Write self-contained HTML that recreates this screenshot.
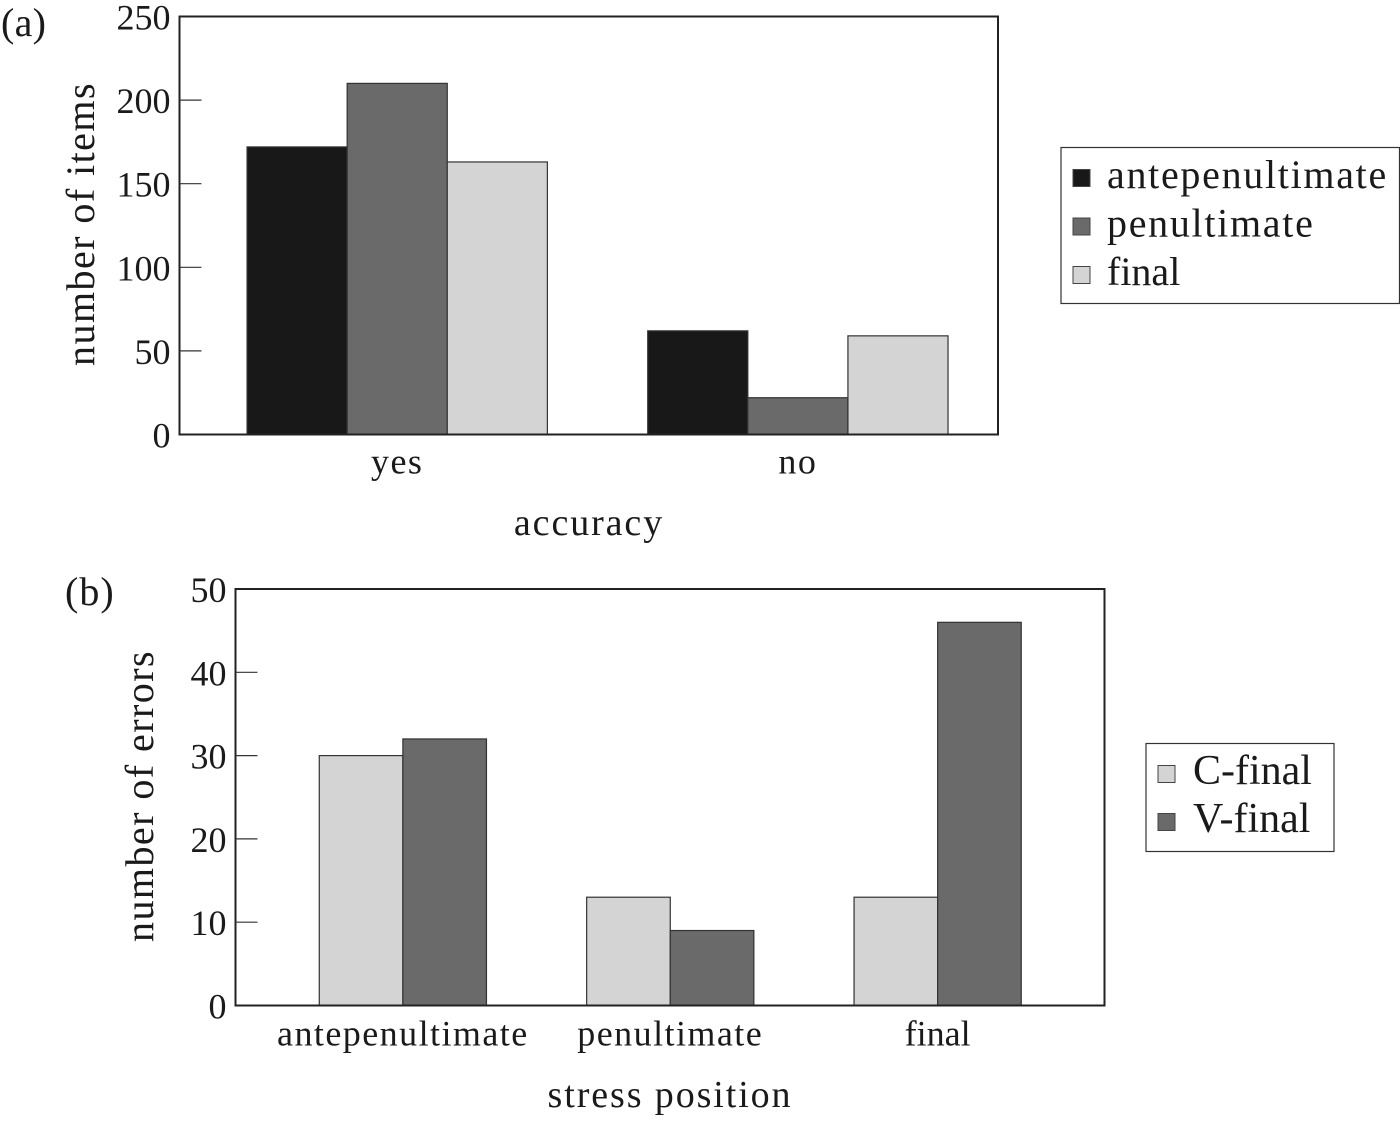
<!DOCTYPE html>
<html lang="en">
<head>
<meta charset="utf-8">
<title>Stress position charts</title>
<style>
html,body{margin:0;padding:0;background:#fff;width:1400px;height:1123px;overflow:hidden}
svg{display:block}
text{font-family:"Liberation Serif",serif;fill:#1a1a1a}
</style>
</head>
<body>
<svg id="figure" xmlns="http://www.w3.org/2000/svg" width="1400" height="1123" viewBox="0 0 1400 1123"></svg>
<script>
const categoriesA = ['yes', 'no'];
const seriesNamesA = ['antepenultimate', 'penultimate', 'final'];
const antepenultimateValues = [172, 62];
const penultimateValues = [210, 22];
const finalValues = [163, 59];
const ticksA = [0, 50, 100, 150, 200, 250];

const categoriesB = ['antepenultimate', 'penultimate', 'final'];
const seriesNamesB = ['C-final', 'V-final'];
const cFinalValues = [30, 13, 13];
const vFinalValues = [32, 9, 46];
const ticksB = [0, 10, 20, 30, 40, 50];

const svg = document.getElementById('figure');
const NS = 'http://www.w3.org/2000/svg';

function add(tag, attrs, content) {
  const el = document.createElementNS(NS, tag);
  for (const k in attrs) el.setAttribute(k, attrs[k]);
  if (content !== undefined) el.textContent = content;
  svg.appendChild(el);
  return el;
}
function label(name, str, x, y, size, ls, anchor, rot) {
  const attrs = {x: x, y: y, 'font-size': size, 'letter-spacing': ls, 'text-anchor': anchor};
  if (rot) attrs.transform = 'rotate(-90 ' + x + ' ' + y + ')';
  const el = add('text', attrs, str);
  
  
  return el;
}
function slug(s) { return String(s).toLowerCase().replace(/[^a-z0-9]+/g, '-'); }
// Zero tracking on "final" keeps the fi ligature seen in the reference.
function tracking(s, ls) { return /final/.test(s) ? 0 : ls; }

function drawChart(cfg) {
  const yOf = v => cfg.bottom - (v / cfg.yMax) * (cfg.bottom - cfg.top);
  const plotW = cfg.right - cfg.left;
  const xCenter = i => cfg.left + plotW * (cfg.firstCenter + i * cfg.step);
  const barW = plotW * cfg.barFrac;
  const n = cfg.series.length;

  cfg.series.forEach((vals, s) => {
    vals.forEach((v, i) => {
      const x = xCenter(i) - n * barW / 2 + s * barW;
      const bar = add('rect', {x: x, y: yOf(v), width: barW, height: cfg.bottom - yOf(v),
        fill: cfg.colors[s], stroke: '#333', 'stroke-width': 1.2});
      
      
    });
  });

  const frame = add('rect', {x: cfg.left, y: cfg.top, width: plotW, height: cfg.bottom - cfg.top,
    fill: 'none', stroke: '#222', 'stroke-width': 2});
  
  

  cfg.ticks.forEach(t => {
    if (t !== 0 && t !== cfg.yMax) {
      const tick = add('line', {x1: cfg.left, x2: cfg.left + 22, y1: yOf(t), y2: yOf(t), stroke: '#333', 'stroke-width': 1.2});
      
      
    }
    label('y-tick-label-' + cfg.id + '-' + t, t, cfg.left - 9, yOf(t) + 13, 36, 0, 'end');
  });

  cfg.categories.forEach((c, i) => {
    label('x-tick-label-' + cfg.id + '-' + slug(c), c, xCenter(i), cfg.bottom + cfg.catOffset, 36, tracking(c, 1.45), 'middle');
  });

  label('x-axis-title-' + cfg.id, cfg.xTitle, cfg.xTitleX, cfg.xTitleY, 38, 1.9, 'middle');
  label('y-axis-title-' + cfg.id, cfg.yTitle, cfg.yTitleX, cfg.yTitleY, 40, 1.45, 'middle', true);
  label('panel-label-' + cfg.id, cfg.panel, cfg.panelX, cfg.panelY, 40, cfg.panelLs, 'start');

  const box = add('rect', {x: cfg.legend.x, y: cfg.legend.y, width: cfg.legend.w, height: cfg.legend.h,
    fill: '#fff', stroke: '#333', 'stroke-width': 1.2});
  
  
  cfg.names.forEach((nm, s) => {
    const cy = cfg.legend.firstY + s * cfg.legend.rowH;
    const sw = add('rect', {x: cfg.legend.x + 12, y: cy - 8.5, width: 17, height: 17,
      fill: cfg.colors[s], stroke: '#444', 'stroke-width': 1});
    
    
    label('legend-entry-' + cfg.id + '-' + slug(nm), nm, cfg.legend.x + cfg.legend.textDx, cy + 10, cfg.legend.size, tracking(nm, 1.7), 'start');
  });
}

drawChart({
  id: 'a', left: 179.5, right: 998, top: 16.5, bottom: 434.5, yMax: 250,
  firstCenter: 0.266, step: 0.4895, barFrac: 0.1223, catOffset: 39,
  categories: categoriesA, names: seriesNamesA,
  series: [antepenultimateValues, penultimateValues, finalValues],
  colors: ['#181818', '#6a6a6a', '#d4d4d4'], ticks: ticksA,
  xTitle: 'accuracy', xTitleX: 589, xTitleY: 535,
  yTitle: 'number of items', yTitleX: 94, yTitleY: 224,
  panel: '(a)', panelX: 1, panelY: 36, panelLs: 0.3,
  legend: {x: 1061, y: 147.5, w: 338.5, h: 156, firstY: 178, rowH: 48.5, textDx: 46, size: 40}
});

drawChart({
  id: 'b', left: 235.5, right: 1104.5, top: 589, bottom: 1005.5, yMax: 50,
  firstCenter: 0.1926, step: 0.3077, barFrac: 0.0962, catOffset: 40,
  categories: categoriesB, names: seriesNamesB,
  series: [cFinalValues, vFinalValues],
  colors: ['#d4d4d4', '#6a6a6a'], ticks: ticksB,
  xTitle: 'stress position', xTitleX: 670, xTitleY: 1107,
  yTitle: 'number of errors', yTitleX: 153, yTitleY: 796,
  panel: '(b)', panelX: 65, panelY: 605, panelLs: 1,
  legend: {x: 1146, y: 743.5, w: 188, h: 108, firstY: 774, rowH: 48, textDx: 47, size: 42}
});
</script>
</body>
</html>
